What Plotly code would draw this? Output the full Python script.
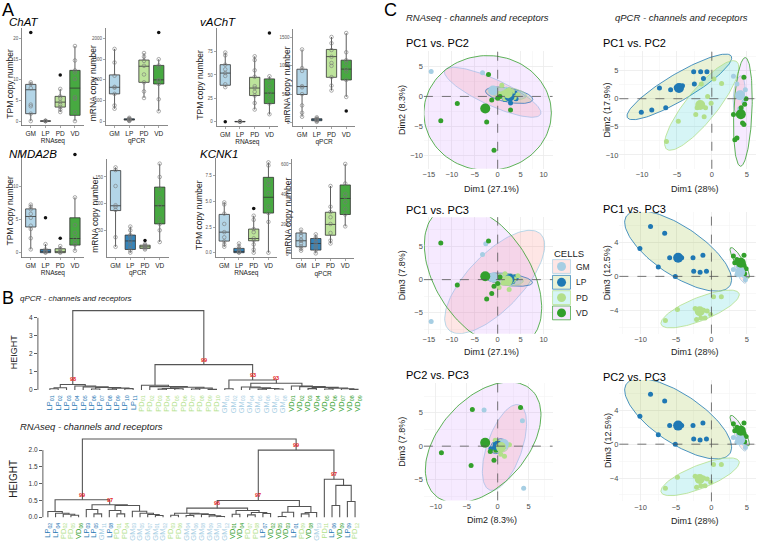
import numpy as np
import plotly.graph_objects as go

W, H = 757, 541
FONT = "Liberation Sans, Arial, Helvetica, sans-serif"

GROUPS = ["GM", "LP", "PD", "VD"]
PAIRED = {"GM": "#a6cee3", "LP": "#1f78b4", "PD": "#b2df8a", "VD": "#33a02c"}
BOX_FILL = {"GM": "rgba(166,206,227,0.85)", "LP": "rgba(31,120,180,0.9)",
            "PD": "rgba(178,223,138,0.85)", "VD": "rgba(51,160,44,0.9)"}
ELL_FILL = {"GM": "rgba(248,118,109,0.18)", "LP": "rgba(124,174,0,0.16)",
            "PD": "rgba(0,191,196,0.16)", "VD": "rgba(199,124,255,0.16)"}

# ---------------- Panel A data: box stats [q1, median, q3, low whisker, high whisker] ----------------
CHAT_RNA_STATS = {"GM": [1.8, 7.6, 8.9, 0.0, 9.4], "LP": [0.0, 0.0, 0.05, 0.0, 0.1],
                  "PD": [3.4, 4.6, 6.0, 2.2, 7.8], "VD": [1.4, 8.0, 12.3, 0.0, 18.2]}
CHAT_RNA_PTS = {"GM": [9.4, 9.0, 8.0, 4.0, 3.6, 1.8, 0.0], "LP": [0.0, 0.0, 0.05, 0.1],
                "PD": [7.8, 6.0, 5.5, 4.6, 4.0, 3.4, 2.8, 2.2],
                "VD": [18.2, 14.7, 12.3, 11.8, 10.2, 5.8, 5.4, 2.2, 0.0]}
CHAT_RNA_OUT = {"GM": [21.5], "LP": [], "PD": [11.2], "VD": []}

CHAT_QPCR_STATS = {"GM": [660, 820, 1120, 300, 1750], "LP": [25, 40, 55, 5, 80],
                   "PD": [940, 1330, 1480, 560, 1650], "VD": [900, 1000, 1350, 240, 1500]}
CHAT_QPCR_PTS = {"GM": [1750, 1420, 1100, 830, 810, 660, 380, 300], "LP": [80, 60, 50, 40, 35, 25, 10, 5],
                 "PD": [1650, 1560, 1460, 1340, 1130, 940, 720, 560],
                 "VD": [1500, 1350, 1300, 1000, 980, 900, 530, 240]}
CHAT_QPCR_OUT = {"GM": [], "LP": [], "PD": [], "VD": [2150]}

VACHT_RNA_STATS = {"GM": [39, 52, 61, 37, 74], "LP": [0, 0, 0.3, 0, 0.5],
                   "PD": [28, 36, 47.5, 13, 70], "VD": [19.4, 30.6, 45.8, 7.7, 48.6]}
VACHT_RNA_PTS = {"GM": [74, 71, 61, 56, 52, 49, 40, 37], "LP": [0.5, 0.2, 0, 0],
                 "PD": [70, 66, 55, 48, 38, 36, 32, 28, 20, 13],
                 "VD": [48.6, 45, 38, 31, 26, 19.4, 8]}
VACHT_RNA_OUT = {"GM": [0], "LP": [], "PD": [], "VD": [95]}

VACHT_QPCR_STATS = {"GM": [494, 634, 940, 100, 1290], "LP": [30, 45, 65, 10, 90],
                    "PD": [797, 1163, 1290, 564, 1510], "VD": [750, 942, 1100, 450, 1580]}
VACHT_QPCR_PTS = {"GM": [1290, 960, 910, 640, 620, 500, 300, 170, 100], "LP": [90, 70, 60, 50, 45, 35, 25, 10],
                  "PD": [1510, 1400, 1280, 1160, 1050, 1000, 800, 650, 564],
                  "VD": [1580, 1240, 1100, 1050, 942, 900, 750, 450]}
VACHT_QPCR_OUT = {"GM": [], "LP": [], "PD": [], "VD": [203]}

NMDA_RNA_STATS = {"GM": [3.9, 5.5, 6.65, 0.5, 7.3], "LP": [0.0, 0.2, 0.5, 0.0, 1.3],
                  "PD": [0.0, 0.15, 0.6, 0.0, 1.0], "VD": [1.15, 2.15, 5.3, 0.3, 8.4]}
NMDA_RNA_PTS = {"GM": [7.3, 7.0, 6.6, 5.9, 5.3, 4.1, 3.6, 2.2, 0.5], "LP": [1.3, 0.5, 0.3, 0.2, 0.1, 0.0],
                "PD": [1.0, 0.6, 0.2, 0.1, 0.0], "VD": [8.4, 4.2, 3.0, 2.2, 1.6, 1.2, 0.3]}
NMDA_RNA_OUT = {"GM": [], "LP": [5.3], "PD": [2.2], "VD": [14.9]}

NMDA_QPCR_STATS = {"GM": [87, 96, 162, 19, 168], "LP": [14, 30, 41, 8, 57],
                   "PD": [16, 19, 22, 14, 24], "VD": [62, 96, 131, 28, 175]}
NMDA_QPCR_PTS = {"GM": [168, 163, 133, 97, 94, 88, 37, 19], "LP": [57, 50, 41, 38, 30, 25, 18, 12, 8],
                 "PD": [24, 22, 20, 19, 18, 16, 14], "VD": [175, 150, 128, 110, 96, 72, 62, 50, 28]}
NMDA_QPCR_OUT = {"GM": [], "LP": [], "PD": [31], "VD": []}

KCNK_RNA_STATS = {"GM": [1.13, 2.0, 3.73, 0.58, 4.9], "LP": [0.0, 0.12, 0.42, 0.0, 0.9],
                  "PD": [1.16, 1.38, 2.3, 0.0, 3.6], "VD": [3.86, 5.4, 7.34, 0.0, 8.8]}
KCNK_RNA_PTS = {"GM": [4.9, 4.7, 3.8, 2.8, 2.0, 1.5, 1.1, 0.8, 0.58], "LP": [0.9, 0.6, 0.4, 0.2, 0.1, 0.05, 0.0],
                "PD": [3.6, 3.2, 2.3, 2.0, 1.4, 1.2, 0.8, 0.3, 0.0],
                "VD": [8.8, 8.5, 7.0, 6.6, 5.8, 4.5, 3.86, 3.0, 0.0]}
KCNK_RNA_OUT = {"GM": [], "LP": [], "PD": [4.3], "VD": []}

KCNK_QPCR_STATS = {"GM": [48, 88, 140, 22, 162], "LP": [26, 70, 103, 4, 131],
                   "PD": [125, 197, 278, 70, 453], "VD": [263, 370, 460, 184, 600]}
KCNK_QPCR_PTS = {"GM": [162, 140, 120, 95, 88, 70, 50, 35, 22], "LP": [131, 110, 100, 80, 70, 55, 40, 25, 4],
                 "PD": [453, 315, 280, 245, 200, 140, 90, 70],
                 "VD": [600, 470, 400, 380, 345, 300, 263, 184]}
KCNK_QPCR_OUT = {"GM": [], "LP": [], "PD": [], "VD": []}

# ---------------- Panel B data: dendrograms (height, left, right[, bootstrap]) ----------------
QPCR_TREE = (4.4,
             (0.30, (0.12, (0.06, "LP01", "LP02"), "LP03"),
              (0.22, "LP04", (0.17, "LP05", (0.13, (0.05, "LP06", "LP07"),
                                             (0.10, (0.04, "LP08", "LP09"), (0.07, "LP10", "LP11"))))), "98"),
             (1.4,
              (0.26, "PD01", (0.18, "PD02", (0.15, (0.08, (0.04, "PD03", "PD04"), (0.06, "PD05", "PD06")),
                                             (0.10, (0.05, "PD07", "PD08"), (0.03, "PD09", "PD10"))))),
              (0.55,
               (0.06, "GM01", "GM02"),
               (0.37,
                (0.16, "GM03", (0.12, "GM04", (0.08, (0.04, "GM05", "GM06"), (0.05, "GM07", "GM08")))),
                (0.22, "VD01", (0.18, "VD02", (0.14, (0.07, "VD03", "VD04"),
                                               (0.10, (0.05, "VD05", "VD06"), (0.06, "VD07", (0.03, "VD08", "VD09")))))),
                "93"),
               "93"),
              "99"))

RNA_TREE = (2.33,
            (0.52,
             (0.17, "LP02", (0.12, "LP04", (0.09, "PD02", (0.06, "PD05", "VD06")))),
             (0.37,
              (0.23, "LP03", (0.10, "LP05", "GM11")),
              (0.35, (0.20, "LP08", (0.10, "PD01", "PD04")),
               (0.18, "GM03", (0.12, "GM05", (0.08, "GM07", (0.05, "GM01", "GM02"))))),
              "97"),
             "99"),
            (2.0,
             (0.5,
              (0.27,
               (0.12, (0.06, "PD03", "PD06"),
                (0.10, (0.05, "GM04", "GM06"), (0.08, "GM08", (0.04, "GM09", (0.02, "GM10", "GM12"))))),
               (0.20, (0.09, "VD01", "VD04"), (0.14, (0.07, "PD07", "PD08"), (0.11, "LP07", "VD02"))),
               "96"),
              (0.32, (0.15, (0.02, "VD05", "VD03"), "LP01"), (0.14, (0.10, "PD09", "VD08"), "GM13")),
              "97"),
             (1.13, "PD11", (0.95, (0.35, "LP06", "VD09"), (0.47, "LP09", "PD12")), "97"),
             "99"))

# ---------------- Panel C data: PCA individual coordinates ----------------
RNA_GROUP = ["GM"] * 9 + ["LP"] * 9 + ["PD"] * 9 + ["VD"] * 9
RNA_PC1 = [-14.5, -3.3, -2.6, 1.0, 1.8, 2.3, 2.9, 1.5, 1.9,
           0.4, 1.6, 2.4, 2.8, 3.3, 4.0, 2.1, 3.8, 2.8,
           0.9, 1.2, 2.0, 3.2, 4.4, 1.6, 0.3, 3.6, 2.5,
           -2.0, -12.4, -8.8, -0.8, -2.4, 2.8, -1.3, 0.5, 0.0]
RNA_PC2 = [4.2, 4.0, -2.2, 0.6, 0.4, 0.9, 0.2, -0.3, 1.2,
           0.2, -0.5, 0.4, -0.3, 0.2, -0.4, 0.9, 0.6, -1.1,
           1.9, 0.6, 0.2, 0.8, 0.3, -0.4, 0.5, -0.2, 1.1,
           3.7, -4.1, -1.2, -9.1, -4.3, -2.3, -0.6, 0.0, -0.3]
RNA_PC3 = [-6.3, 3.8, 5.4, 0.2, -0.2, 0.4, -0.5, 0.3, -0.1,
           0.3, -0.2, 0.1, 0.5, -0.3, 0.2, -0.1, 0.4, -0.4,
           0.2, -0.5, 0.3, -0.2, 0.6, 0.9, -1.2, 0.1, -1.5,
           5.8, 5.5, -0.8, -1.0, -2.9, 0.2, -2.1, 0.4, -0.6]

Q_GROUP = ["GM"] * 8 + ["LP"] * 13 + ["PD"] * 11 + ["VD"] * 9
Q_PC1 = [3.1, 3.6, 4.2, 4.6, 4.8, 4.0, 3.8, 4.3,
         -10.1, -8.6, -7.5, -6.6, -5.9, -5.1, -4.5, -4.2, -2.6, -2.5, -1.6, -1.2, -0.7,
         -6.5, -4.8, -2.3, -2.1, -1.5, -1.1, -0.9, -0.6, -0.1, 0.3, 1.4,
         4.6, 3.1, 4.2, 4.4, 4.6, 3.3, 3.6, 4.9, 4.7]
Q_PC2 = [4.0, 2.6, 1.0, -0.6, 1.6, -1.8, 0.3, -2.2,
         -2.4, -2.0, 1.9, -1.6, 1.6, 2.0, 2.2, 2.3, 4.8, 2.6, 4.8, 3.6, 4.8,
         -7.6, -4.0, -2.8, -1.6, 2.6, -3.2, -1.6, 0.4, -0.8, 3.5, 2.7,
         3.8, -2.8, -1.6, -4.3, -4.6, -7.3, -7.0, 0.0, -1.0]
Q_PC3 = [0.8, 0.2, 0.4, 0.1, -0.4, 1.0, 1.2, 0.7,
         3.3, 5.9, 1.1, 5.1, 2.2, 0.0, 2.3, 2.2, 2.2, 0.6, 0.5, 2.5, 0.6,
         -5.2, -3.9, -3.8, -5.1, -4.9, -4.0, -4.9, -4.1, -4.5, -2.4, -2.4,
         2.5, 2.4, 1.9, 1.5, 1.3, 1.6, 2.0, 0.9, 0.3]

# confidence ellipses: (cx, cy, rx, ry, angle_deg)
RNA_ELL_12 = {"GM": (-1.1, 0.7, 11.1, 2.3, -19), "LP": (2.5, 0.2, 5.2, 1.2, -8),
              "PD": (2.3, 0.5, 4.0, 1.0, -6), "VD": (-2.2, -2.8, 13.9, 9.7, 0)}
RNA_ELL_13 = {"GM": (-0.65, -0.35, 12.5, 4.8, 32), "LP": (2.4, 0.0, 5.2, 0.9, -5),
              "PD": (2.0, 0.0, 3.6, 0.9, -3), "VD": (-3.2, 0.5, 14.3, 8.6, -34)}
RNA_ELL_23 = {"GM": (1.1, -0.2, 6.8, 2.8, 69), "LP": (0.1, 0.0, 1.4, 1.0, 30),
              "PD": (0.6, -0.1, 1.1, 0.8, 0), "VD": (-2.35, 0.55, 11.1, 6.8, 43)}
Q_ELL_12 = {"GM": (3.9, 0.8, 3.3, 0.8, 85), "LP": (-4.65, 2.1, 9.24, 2.2, 37),
            "PD": (-1.45, -1.2, 9.27, 2.4, 58), "VD": (4.45, -2.35, 9.66, 1.3, 88)}
Q_ELL_13 = {"GM": (4.05, 0.5, 1.5, 0.45, -60), "LP": (-4.7, 3.0, 8.4, 3.0, -28),
            "PD": (-1.6, -3.85, 5.8, 1.4, 18), "VD": (4.0, 1.6, 2.2, 0.55, -54)}

# ====================================================================================
fig = go.Figure()
AX, SHAPES, ANNS = {}, [], []
_cnt = [0]


def add_axes(x0, x1, y0, y1, xkw, ykw):
    _cnt[0] += 1
    s = "" if _cnt[0] == 1 else str(_cnt[0])
    AX["xaxis" + s] = dict(domain=[x0 / W, x1 / W], anchor="y" + s, fixedrange=True, **xkw)
    AX["yaxis" + s] = dict(domain=[1 - y1 / H, 1 - y0 / H], anchor="x" + s, fixedrange=True, **ykw)
    return "x" + s, "y" + s


def text(t, x, y, size, color="#000", xanchor="left", yanchor="middle", angle=0, italic=False):
    if italic:
        t = "<i>" + t + "</i>"
    ANNS.append(dict(text=t, x=x / W, y=1 - y / H, xref="paper", yref="paper", showarrow=False,
                     xanchor=xanchor, yanchor=yanchor, textangle=angle, borderpad=0,
                     font=dict(size=size, color=color, family=FONT)))


# ---------------- Panel A ----------------
A_PLOTS = [
    dict(st=CHAT_RNA_STATS, pts=CHAT_RNA_PTS, out=CHAT_RNA_OUT, left=21, zero=122.7, ppu=4.18,
         ticks=[0, 5, 10, 15, 20], yt="TPM copy number", ytx=9, xt="RNAseq", fmt=""),
    dict(st=CHAT_QPCR_STATS, pts=CHAT_QPCR_PTS, out=CHAT_QPCR_OUT, left=105, zero=122.7, ppu=0.0418,
         ticks=[0, 500, 1000, 1500, 2000], yt="mRNA copy number", ytx=92, xt="qPCR", fmt=""),
    dict(st=VACHT_RNA_STATS, pts=VACHT_RNA_PTS, out=VACHT_RNA_OUT, left=216, zero=123.3, ppu=0.947,
         ticks=[0, 25, 50, 75], yt="TPM copy number", ytx=200, xt="RNAseq", fmt=""),
    dict(st=VACHT_QPCR_STATS, pts=VACHT_QPCR_PTS, out=VACHT_QPCR_OUT, left=293, zero=124, ppu=0.0573,
         ticks=[0, 500, 1000, 1500], yt="mRNA copy number", ytx=287, xt="qPCR", fmt=""),
    dict(st=NMDA_RNA_STATS, pts=NMDA_RNA_PTS, out=NMDA_RNA_OUT, left=21, zero=256, ppu=6.67,
         ticks=[0, 5, 10], yt="TPM copy number", ytx=9, xt="RNAseq", fmt=""),
    dict(st=NMDA_QPCR_STATS, pts=NMDA_QPCR_PTS, out=NMDA_QPCR_OUT, left=106, zero=260.3, ppu=0.54,
         ticks=[50, 100, 150], yt="mRNA copy number", ytx=94, xt="qPCR", fmt=""),
    dict(st=KCNK_RNA_STATS, pts=KCNK_RNA_PTS, out=KCNK_RNA_OUT, left=215, zero=256, ppu=10.4,
         ticks=[0, 2.5, 5, 7.5], yt="TPM copy number", ytx=199, xt="RNAseq", fmt=".1f"),
    dict(st=KCNK_QPCR_STATS, pts=KCNK_QPCR_PTS, out=KCNK_QPCR_OUT, left=292, zero=257.3, ppu=0.152,
         ticks=[0, 200, 400, 600], yt="mRNA copy number", ytx=287, xt="qPCR", fmt=""),
]
AXC = "#6b6b6b"
for p in A_PLOTS:
    vals = [v for g in GROUPS for v in p["pts"][g] + p["out"][g] + p["st"][g]]
    lo, hi = min(vals), max(vals)
    sp = hi - lo
    r0, r1 = lo - 0.05 * sp, hi + 0.05 * sp
    top = p["zero"] - r1 * p["ppu"]
    bot = p["zero"] - r0 * p["ppu"]
    xa, ya = add_axes(
        p["left"], p["left"] + 62, top, bot,
        dict(type="category", categoryorder="array", categoryarray=GROUPS, range=[-0.6, 3.6],
             showline=True, linecolor=AXC, linewidth=0.8, ticks="outside", ticklen=2, tickcolor=AXC,
             tickwidth=0.6, tickfont=dict(size=6.5, color="#222"), showgrid=False, zeroline=False,
             title=dict(text=p["xt"], font=dict(size=6.5, color="#222"), standoff=2)),
        dict(range=[r0, r1], tickvals=p["ticks"], tickformat=p["fmt"], showline=True, linecolor=AXC,
             linewidth=0.8, ticks="outside", ticklen=2, tickcolor=AXC, tickwidth=0.6,
             tickfont=dict(size=4.5, color="#555"), showgrid=False, zeroline=False))
    for g in GROUPS:
        q1, med, q3, lw, uw = p["st"][g]
        fig.add_trace(go.Box(x=[g], q1=[q1], median=[med], q3=[q3], lowerfence=[lw], upperfence=[uw],
                             orientation="v", width=0.7, fillcolor=BOX_FILL[g], boxpoints=False,
                             line=dict(color="#333", width=0.8), whiskerwidth=0,
                             xaxis=xa, yaxis=ya, hoverinfo="skip"))
        if p["out"][g]:
            fig.add_trace(go.Scatter(x=[g] * len(p["out"][g]), y=p["out"][g], mode="markers",
                                     marker=dict(size=3.5, color="#111"), xaxis=xa, yaxis=ya))
        fig.add_trace(go.Scatter(x=[g] * len(p["pts"][g]), y=p["pts"][g], mode="markers",
                                 marker=dict(size=3.6, symbol="circle-open", color="#777",
                                             line=dict(width=0.6, color="#777")),
                                 xaxis=xa, yaxis=ya))
    text(p["yt"], p["ytx"], (top + bot) / 2 + 7, 8.5, color="#222", xanchor="center", angle=-90)

text("A", 0, 10, 18)
text("ChAT", 7, 22, 11.5, italic=True)
text("vAChT", 199, 22, 11.5, italic=True)
text("NMDA2B", 7, 156, 11.5, italic=True)
text("KCNK1", 199, 156, 11.5, italic=True)

# ---------------- Panel B ----------------


def build_dendro(tree):
    xs, ys, leaves, boot = [], [], [], []

    def rec(node):
        if isinstance(node, str):
            leaves.append(node)
            return float(len(leaves) - 1), 0.0
        h, left, right = node[0], node[1], node[2]
        xl, hl = rec(left)
        xr, hr = rec(right)
        xs.extend([xl, xl, xr, xr, None])
        ys.extend([hl, h, h, hr, None])
        xm = (xl + xr) / 2
        if len(node) > 3:
            boot.append((xm, h, node[3]))
        return xm, h

    rec(tree)
    return xs, ys, leaves, boot


B_PLOTS = [
    dict(tree=QPCR_TREE, axx=37, first=49, step=8.35, zero=395, ppu=18.25, ymax=4.6,
         ticks=[0, 1, 2, 3, 4], fmt="", title="qPCR - channels and receptors", ty=302, tsize=8,
         hy=356, hsize=9),
    dict(tree=RNA_TREE, axx=42, first=47, step=7.7, zero=524, ppu=34, ymax=2.45,
         ticks=[0, 0.5, 1, 1.5, 2], fmt=".1f", title="RNAseq - channels and receptors", ty=432, tsize=9.5,
         hy=485, hsize=10),
]
for p in B_PLOTS:
    xs, ys, leaves, boot = build_dendro(p["tree"])
    n = len(leaves)
    xr0 = (p["axx"] - p["first"]) / p["step"]
    xr1 = n - 1 + 0.5
    x1px = p["first"] + xr1 * p["step"]
    ymin = -0.06 * p["ymax"] / 2.45
    top = p["zero"] - p["ymax"] * p["ppu"]
    bot = p["zero"] - ymin * p["ppu"]
    ticktext = ['<span style="color:%s">%s<sub>%s</sub></span>' % (PAIRED[l[:2]], l[:2], l[2:]) for l in leaves]
    xa, ya = add_axes(
        p["axx"], x1px, top, bot,
        dict(range=[xr0, xr1], tickvals=list(range(n)), ticktext=ticktext, tickangle=-90,
             tickfont=dict(size=7.5, family=FONT), showgrid=False, zeroline=False, showline=False,
             ticks="", ticklabelstandoff=1),
        dict(range=[ymin, p["ymax"]], tickvals=p["ticks"], tickformat=p["fmt"], ticks="outside", ticklen=3,
             tickcolor="#333", tickwidth=0.8, tickfont=dict(size=6.5, color="#333"), showgrid=False,
             zeroline=False, showline=False))
    SHAPES.append(dict(type="line", xref=xa + " domain", yref=ya, x0=0, x1=0, y0=0, y1=p["ticks"][-1],
                       line=dict(color="#333", width=0.8)))
    fig.add_trace(go.Scatter(x=xs, y=ys, mode="lines", line=dict(color="#555", width=1.1),
                             xaxis=xa, yaxis=ya, hoverinfo="skip"))
    for (bx, bh, bl) in boot:
        ANNS.append(dict(text="<b>" + bl + "</b>", x=bx, y=bh, xref=xa, yref=ya, showarrow=False,
                         xanchor="center", yanchor="bottom", yshift=0,
                         font=dict(size=5.5, color="#e31a1c", family=FONT)))
    text(p["title"], 18, p["ty"], p["tsize"], color="#222", italic=True)
    text("HEIGHT", 13, p["hy"], p["hsize"], color="#222", xanchor="center", angle=-90)
text("B", 0, 302, 18)

# ---------------- Panel C ----------------


def ellipse_xy(cx, cy, rx, ry, ang):
    t = np.linspace(0, 2 * np.pi, 120)
    a = np.deg2rad(ang)
    x = cx + rx * np.cos(t) * np.cos(a) - ry * np.sin(t) * np.sin(a)
    y = cy + rx * np.cos(t) * np.sin(a) + ry * np.sin(t) * np.cos(a)
    return x, y


C_PLOTS = [
    dict(title="PC1 vs. PC2", xs=RNA_PC1, ys=RNA_PC2, grp=RNA_GROUP, ell=RNA_ELL_12, x0=424, x1=553,
         top=52, bot=171, zx=498, ppx=4.6, zy=97.7, ppy=6.0, xt="Dim1 (27.1%)", yt="Dim2 (8.3%)",
         xd=5, yd=5, tx=405, ty=44, xty=191, xtx=492, ytx=402),
    dict(title="PC1 vs. PC3", xs=RNA_PC1, ys=RNA_PC3, grp=RNA_GROUP, ell=RNA_ELL_13, x0=424, x1=553,
         top=220, bot=338, zx=498, ppx=4.6, zy=283.3, ppy=6.73, xt="Dim1 (27.1%)", yt="Dim3 (7.8%)",
         xd=5, yd=5, tx=405, ty=213, xty=357, xtx=492, ytx=402),
    dict(title="PC2 vs. PC3", xs=RNA_PC2, ys=RNA_PC3, grp=RNA_GROUP, ell=RNA_ELL_23, x0=424, x1=553,
         top=388, bot=507, zx=498, ppx=6.2, zy=452, ppy=6.77, xt="Dim2 (8.3%)", yt="Dim3 (7.8%)",
         xd=5, yd=5, tx=405, ty=380, xty=527, xtx=492, ytx=402),
    dict(title="PC1 vs. PC2", xs=Q_PC1, ys=Q_PC2, grp=Q_GROUP, ell=Q_ELL_12, x0=620, x1=757,
         top=52, bot=171, zx=712.7, ppx=7.0, zy=100, ppy=5.7, xt="Dim1 (28%)", yt="Dim2 (17.9%)",
         xd=5, yd=5, tx=603, ty=44, xty=191, xtx=696, ytx=608),
    dict(title="PC1 vs. PC3", xs=Q_PC1, ys=Q_PC3, grp=Q_GROUP, ell=Q_ELL_13, x0=620, x1=757,
         top=215, bot=338, zx=712.3, ppx=7.1, zy=280, ppy=8.58, xt="Dim1 (28%)", yt="Dim3 (12.5%)",
         xd=5, yd=4, tx=603, ty=212, xty=357, xtx=696, ytx=608),
    dict(title="PC2 vs. PC3", xs=Q_PC1, ys=Q_PC3, grp=Q_GROUP, ell=Q_ELL_13, x0=620, x1=757,
         top=385, bot=508, zx=712.3, ppx=7.1, zy=450, ppy=8.58, xt="Dim1 (28%)", yt="Dim3 (12.5%)",
         xd=5, yd=4, tx=603, ty=382, xty=528, xtx=696, ytx=608),
]
for p in C_PLOTS:
    xr = [(p["x0"] - p["zx"]) / p["ppx"], (p["x1"] - p["zx"]) / p["ppx"]]
    yr = [(p["zy"] - p["bot"]) / p["ppy"], (p["zy"] - p["top"]) / p["ppy"]]
    common = dict(showgrid=True, gridcolor="#ebebeb", gridwidth=0.8, zeroline=False, showline=False,
                  ticks="", tickfont=dict(size=7.5, color="#4d4d4d"), tick0=0)
    xa, ya = add_axes(p["x0"], p["x1"], p["top"], p["bot"],
                      dict(range=xr, dtick=p["xd"], minor=dict(dtick=p["xd"] / 2, showgrid=True,
                                                                gridcolor="#f4f4f4", gridwidth=0.6),
                           **common),
                      dict(range=yr, dtick=p["yd"], minor=dict(dtick=p["yd"] / 2, showgrid=True,
                                                                gridcolor="#f4f4f4", gridwidth=0.6),
                           **common))
    for g in GROUPS:
        ex, ey = ellipse_xy(*p["ell"][g])
        fig.add_trace(go.Scatter(x=ex, y=ey, mode="lines", fill="toself", fillcolor=ELL_FILL[g],
                                 line=dict(color=PAIRED[g], width=0.8), xaxis=xa, yaxis=ya,
                                 hoverinfo="skip"))
    SHAPES.append(dict(type="line", xref=xa, yref=ya + " domain", x0=0, x1=0, y0=0, y1=1,
                       line=dict(color="#555", width=0.8, dash="dash")))
    SHAPES.append(dict(type="line", xref=xa + " domain", yref=ya, x0=0, x1=1, y0=0, y1=0,
                       line=dict(color="#555", width=0.8, dash="dash")))
    grp = np.array(p["grp"])
    xsv, ysv = np.array(p["xs"]), np.array(p["ys"])
    for g in GROUPS:
        m = grp == g
        fig.add_trace(go.Scatter(x=xsv[m], y=ysv[m], mode="markers",
                                 marker=dict(size=5, color=PAIRED[g]), xaxis=xa, yaxis=ya))
    for g in GROUPS:
        m = grp == g
        fig.add_trace(go.Scatter(x=[xsv[m].mean()], y=[ysv[m].mean()], mode="markers",
                                 marker=dict(size=10, color=PAIRED[g]), xaxis=xa, yaxis=ya))
    text(p["title"], p["tx"], p["ty"], 11)
    text(p["xt"], p["xtx"], p["xty"], 9, color="#222", xanchor="center")
    text(p["yt"], p["ytx"], (p["top"] + p["bot"]) / 2, 9, color="#222", xanchor="center", angle=-90)

text("C", 383, 10, 18)
text("RNAseq - channels and receptors", 405, 18, 9.5, color="#222", italic=True)
text("qPCR - channels and receptors", 615, 18, 9.5, color="#222", italic=True)

# legend
text("CELLS", 553, 257, 9.5, color="#222")
LEG_Y = [270, 286, 301.5, 317]
for g, cy in zip(GROUPS, LEG_Y):
    SHAPES.append(dict(type="rect", xref="paper", yref="paper", x0=553 / W, x1=571 / W,
                       y0=1 - (cy + 7) / H, y1=1 - (cy - 7) / H, fillcolor=ELL_FILL[g],
                       line=dict(color=PAIRED[g], width=0.7)))
    SHAPES.append(dict(type="circle", xref="paper", yref="paper", x0=(562 - 4.5) / W, x1=(562 + 4.5) / W,
                       y0=1 - (cy + 4.5) / H, y1=1 - (cy - 4.5) / H, fillcolor=PAIRED[g],
                       line=dict(color=PAIRED[g], width=0)))
    text(g, 576, cy, 8.5, color="#222")

fig.update_layout(width=W, height=H, margin=dict(l=0, r=0, t=0, b=0), paper_bgcolor="white",
                  plot_bgcolor="white", showlegend=False, boxmode="overlay", hovermode=False,
                  font=dict(family=FONT), shapes=SHAPES, annotations=ANNS, **AX)
fig.write_html("out.html", config={"displayModeBar": False, "staticPlot": True},
               post_script="document.body.style.margin='0px';document.body.style.overflow='hidden';")
